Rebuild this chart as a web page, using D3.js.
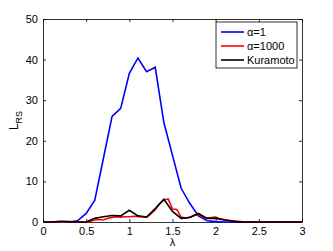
<!DOCTYPE html>
<html>
<head>
<meta charset="utf-8">
<script src="https://cdn.jsdelivr.net/npm/d3@7"></script>
<style>
  body { margin: 0; background: #fff; }
  text { font-family: "Liberation Sans", Arial, sans-serif; }
</style>
</head>
<body>
<div id="chart"></div>
<script>
// lambda grid for alpha=1 and Kuramoto (step 0.1)
const lambda = [0, 0.1, 0.2, 0.3, 0.4, 0.5, 0.6, 0.7, 0.8, 0.9, 1.0, 1.1, 1.2, 1.3, 1.4, 1.5,
  1.6, 1.7, 1.8, 1.9, 2.0, 2.1, 2.2, 2.3, 2.4, 2.5, 2.6, 2.7, 2.8, 2.9, 3.0];
const alpha1 = [0, 0, 0, 0, 0.3, 2.1, 5.4, 15.7, 26, 28, 36.6, 40.4, 37, 38.1, 24.5, 16.4,
  8.3, 4.6, 1.5, 0.3, 0.1, 0, 0, 0, 0, 0, 0, 0, 0, 0, 0];
const kuramoto = [0, 0, 0.2, 0.1, 0, 0, 0.9, 1.3, 1.6, 1.5, 2.9, 1.5, 1.2, 3.3, 5.6, 2.6,
  0.9, 1.1, 2.1, 0.9, 0.9, 0.5, 0.2, 0, 0, 0, 0, 0, 0, 0, 0];

// alpha=1000 was sampled finer (step 0.05)
const lambdaFine = [0, 0.5, 0.55, 0.6, 0.65, 0.7, 0.75, 0.8, 0.85, 0.9, 0.95, 1.0, 1.05, 1.1,
  1.15, 1.2, 1.25, 1.3, 1.35, 1.4, 1.45, 1.5, 1.55, 1.6, 1.65, 1.7, 1.75, 1.8, 1.85, 1.9,
  1.95, 2.0, 2.05, 2.1, 2.15, 2.2, 2.25, 2.3, 2.35, 2.4, 2.5, 3.0];
const alpha1000 = [0, 0, 0.2, 0.5, 0.6, 0.5, 0.9, 1.1, 1.3, 1.2, 1.3, 1.3, 1.4, 1.3,
  1.3, 1.2, 2.0, 3.0, 4.5, 5.4, 5.7, 3.2, 3.1, 1.2, 1.0, 1.2, 1.6, 1.8, 1.1, 1.0,
  1.1, 1.2, 0.8, 0.6, 0.4, 0.3, 0.2, 0.1, 0.05, 0.05, 0, 0];

const xTicks = [0, 0.5, 1, 1.5, 2, 2.5, 3];
const yTicks = [0, 10, 20, 30, 40, 50];

const series = [
  { name: "\u03b1=1", color: "#0000ff", x: lambda, y: alpha1 },
  { name: "\u03b1=1000", color: "#ff0000", x: lambdaFine, y: alpha1000 },
  { name: "Kuramoto", color: "#000000", x: lambda, y: kuramoto }
];

const W = 333, H = 251;
const margin = { left: 43, right: 31, top: 19, bottom: 29 };
const width = W - margin.left - margin.right;
const height = H - margin.top - margin.bottom;

const svg = d3.select("#chart").append("svg")
  .attr("width", W)
  .attr("height", H);

const g = svg.append("g")
  .attr("transform", "translate(" + margin.left + "," + margin.top + ")");

const x = d3.scaleLinear().domain([0, 3]).range([0, width]);
const y = d3.scaleLinear().domain([0, 50]).range([height, 0]);

// axes with inward ticks on all four sides (matlab box style)
function styleAxis(sel) {
  sel.select(".domain").attr("stroke", "#000").attr("stroke-width", 0.8);
  sel.selectAll(".tick line").attr("stroke", "#000").attr("stroke-width", 0.8);
  sel.selectAll("text").attr("font-size", 11).attr("fill", "#000");
}

g.append("g")
  .attr("transform", "translate(0," + height + ")")
  .call(d3.axisBottom(x).tickValues(xTicks).tickSizeInner(-3).tickSizeOuter(0).tickPadding(5)
    .tickFormat(d3.format("")))
  .call(styleAxis);

g.append("g")
  .call(d3.axisLeft(y).tickValues(yTicks).tickSizeInner(-3).tickSizeOuter(0).tickPadding(5))
  .call(styleAxis);

g.append("g")
  .call(d3.axisTop(x).tickValues(xTicks).tickSizeInner(-3).tickSizeOuter(0).tickFormat(""))
  .call(styleAxis);

g.append("g")
  .attr("transform", "translate(" + width + ",0)")
  .call(d3.axisRight(y).tickValues(yTicks).tickSizeInner(-3).tickSizeOuter(0).tickFormat(""))
  .call(styleAxis);

// lines
const line = d3.line()
  .x(d => x(d[0]))
  .y(d => y(d[1]));

series.forEach(s => {
  g.append("path")
    .datum(s.x.map((v, i) => [v, s.y[i]]))
    .attr("fill", "none")
    .attr("stroke", s.color)
    .attr("stroke-width", 1.6)
    .attr("stroke-linejoin", "miter")
    .attr("d", line);
});

// axis labels
svg.append("text")
  .attr("x", margin.left + x(1.5))
  .attr("y", 246)
  .attr("text-anchor", "middle")
  .attr("font-size", 11)
  .text("\u03bb");

const yl = svg.append("text")
  .attr("transform", "translate(18," + (margin.top + height / 2) + ") rotate(-90)")
  .attr("text-anchor", "middle")
  .attr("font-size", 12);
yl.append("tspan").text("L");
yl.append("tspan").attr("font-size", 9).attr("dy", 4).text("RS");

// legend
const legend = svg.append("g").attr("transform", "translate(216,22)");
legend.append("rect")
  .attr("width", 81)
  .attr("height", 46)
  .attr("fill", "#fff")
  .attr("stroke", "#000")
  .attr("stroke-width", 0.8);

series.forEach((s, i) => {
  const row = legend.append("g").attr("transform", "translate(0," + (10 + i * 14) + ")");
  row.append("line")
    .attr("x1", 5).attr("x2", 28)
    .attr("stroke", s.color)
    .attr("stroke-width", 1.6);
  row.append("text")
    .attr("x", 31)
    .attr("y", 4)
    .attr("font-size", 11)
    .text(s.name);
});
</script>
</body>
</html>
